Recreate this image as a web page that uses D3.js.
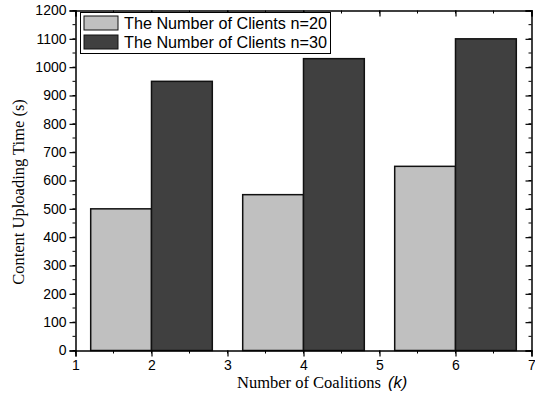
<!DOCTYPE html>
<html><head><meta charset="utf-8">
<script src="https://cdn.jsdelivr.net/npm/d3@7"></script>
<style>body{margin:0;background:#fff}svg{display:block}</style>
</head><body>
<svg id="c" width="535" height="402"></svg>
<script>
const categories = [2, 4, 6];
const seriesNames = ["The Number of Clients n=20", "The Number of Clients n=30"];
const n20 = [500, 550, 650];
const n30 = [950, 1030, 1100];
const xTicks = [1, 2, 3, 4, 5, 6, 7];
const yTicks = [0,100,200,300,400,500,600,700,800,900,1000,1100,1200];
const colors = ["#c0c0c0", "#404040"];

const svg = d3.select("#c");
const L = 75.5, R = 531.5, T = 10.5, B = 350.5;
const x = d3.scaleLinear().domain([1, 7]).range([L, R]);
const y = d3.scaleLinear().domain([0, 1200]).range([B, T]);
const barW = 0.8;

const series = [n20, n30];
series.forEach((vals, si) => {
  svg.append("g").selectAll("rect").data(vals).enter().append("rect")
    .attr("x", (d, i) => x(si === 0 ? categories[i] - barW : categories[i]))
    .attr("width", x(1 + barW) - x(1))
    .attr("y", d => y(d))
    .attr("height", d => y(0) - y(d))
    .attr("fill", colors[si])
    .attr("stroke", "#111").attr("stroke-width", 1.5);
});

const font = "Liberation Sans, Arial, sans-serif";
const minorX = d3.range(1, 7.01, 0.5);
const minorY = d3.range(0, 1201, 50);

// bottom axis
const gb = svg.append("g").attr("transform", `translate(0,${B})`)
  .call(d3.axisBottom(x).tickValues(xTicks).tickFormat(d3.format("d")).tickSize(6).tickPadding(4));
gb.append("g").selectAll("line").data(minorX).enter().append("line")
  .attr("x1", d => x(d)).attr("x2", d => x(d)).attr("y1", 0).attr("y2", 3).attr("stroke", "#000");
// left axis
const gl = svg.append("g").attr("transform", `translate(${L},0)`)
  .call(d3.axisLeft(y).tickValues(yTicks).tickFormat(d3.format("d")).tickSize(6).tickPadding(3));
gl.append("g").selectAll("line").data(minorY).enter().append("line")
  .attr("y1", d => y(d)).attr("y2", d => y(d)).attr("x1", 0).attr("x2", -3).attr("stroke", "#000");
// top axis (inward ticks)
const gt = svg.append("g").attr("transform", `translate(0,${T})`)
  .call(d3.axisTop(x).tickValues(xTicks).tickSize(-6).tickFormat(""));
gt.append("g").selectAll("line").data(minorX).enter().append("line")
  .attr("x1", d => x(d)).attr("x2", d => x(d)).attr("y1", 0).attr("y2", 3).attr("stroke", "#000");
// right axis (inward ticks)
const gr = svg.append("g").attr("transform", `translate(${R},0)`)
  .call(d3.axisRight(y).tickValues(yTicks).tickSize(-6).tickFormat(""));
gr.append("g").selectAll("line").data(minorY).enter().append("line")
  .attr("y1", d => y(d)).attr("y2", d => y(d)).attr("x1", 0).attr("x2", -3).attr("stroke", "#000");

[gb, gl, gt, gr].forEach(g => {
  g.selectAll(".domain").attr("stroke", "#000").attr("stroke-width", 1.5);
  g.selectAll(".tick line").attr("stroke", "#000").attr("stroke-width", 1.2);
  g.selectAll("text").attr("font-family", font).attr("font-size", 14).attr("fill", "#000");
});

// legend
const lg = svg.append("g");
lg.append("rect").attr("x", 80.5).attr("y", 12.5).attr("width", 250).attr("height", 41)
  .attr("fill", "#fff").attr("stroke", "#000").attr("stroke-width", 1);
seriesNames.forEach((name, i) => {
  lg.append("rect").attr("x", 84).attr("y", 16 + i * 19).attr("width", 34).attr("height", 14)
    .attr("fill", colors[i]).attr("stroke", "#111").attr("stroke-width", 1);
  lg.append("text").attr("x", 124).attr("y", 29 + i * 19).text(name)
    .attr("font-family", font).attr("font-size", 16.2).attr("fill", "#000");
});

// axis titles
svg.append("text").attr("transform", "translate(24,192) rotate(-90)")
  .attr("text-anchor", "middle").attr("font-family", "Liberation Serif, Times New Roman, serif")
  .attr("font-size", 16.5).text("Content Uploading Time (s)");
const xt = svg.append("text").attr("x", 237).attr("y", 388)
  .attr("font-family", "Liberation Serif, Times New Roman, serif").attr("font-size", 16.5);
xt.append("tspan").text("Number of Coalitions ");
xt.append("tspan").attr("font-family", font).attr("font-style", "italic").attr("dx", 3).text("(k)");
</script>
</body></html>
